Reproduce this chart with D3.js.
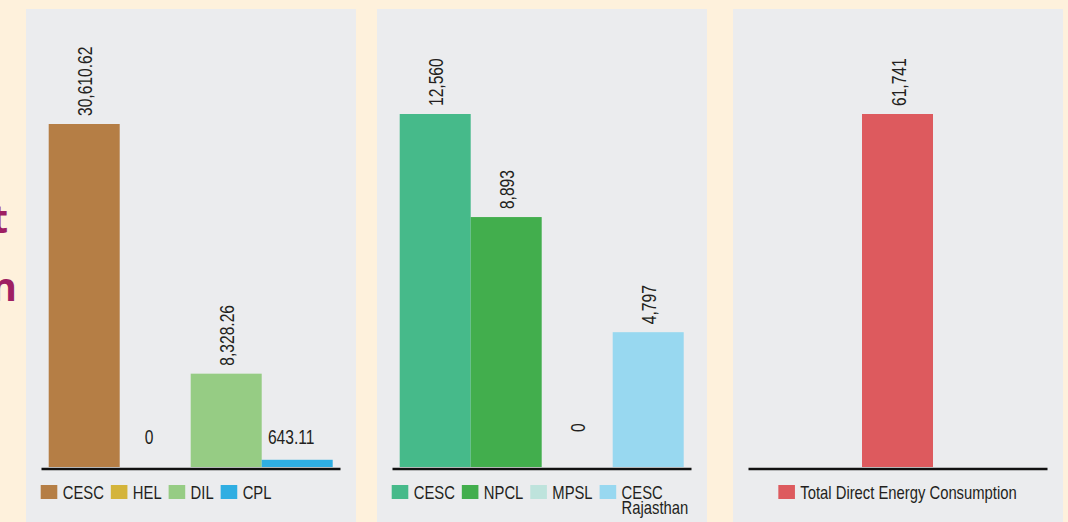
<!DOCTYPE html>
<html>
<head>
<meta charset="utf-8">
<script src="https://cdn.jsdelivr.net/npm/d3@7"></script>
<style>
  html, body { margin: 0; padding: 0; background: #FEF1DC; }
  svg { display: block; }
  .cond { font-family: "Liberation Sans", Arial, sans-serif; }
</style>
</head>
<body>
<svg id="chart" width="1068" height="522"></svg>
<script>
// Direct energy consumption by company group
const groupACategories = ["CESC", "HEL", "DIL", "CPL"];
const groupAValues = [30610.62, 0, 8328.26, 643.11];

const groupBCategories = ["CESC", "NPCL", "MPSL", "CESC Rajasthan"];
const groupBValues = [12560, 8893, 0, 4797];

const totalCategories = ["Total Direct Energy Consumption"];
const totalValues = [61741];

const groupAColors = ["#B57E45", "#D4B43A", "#96CC84", "#2FAEE2"];
const groupBColors = ["#46BA8A", "#42AE4D", "#BEE3DC", "#98D8F0"];
const totalColors = ["#DD5A5E"];

const svg = d3.select("#chart");
const W = 1068, H = 522;

svg.append("rect").attr("width", W).attr("height", H).attr("fill", "#FEF1DC");

// side heading letters peeking in at the left edge
svg.append("text").attr("x", 8).attr("y", 233).attr("text-anchor", "end")
  .attr("font-family", "'Open Sans', sans-serif").attr("font-weight", 700)
  .attr("font-size", 40).attr("fill", "#9E1F63").text("t");
svg.append("text").attr("x", 17).attr("y", 301).attr("text-anchor", "end")
  .attr("font-family", "'Open Sans', sans-serif").attr("font-weight", 700)
  .attr("font-size", 40).attr("fill", "#9E1F63").text("n");

const panelW = 330;
const baseY = 467;
const fmt = d3.format(",");

// condensed type: regular sans squeezed horizontally
const VAL_SIZE = 19.5, VAL_K = 0.8;
const LEG_SIZE = 18.5, LEG_K = 0.8;
const INK = "#231F20";

const panels = [
  { x: 26,  cats: groupACategories, vals: groupAValues, colors: groupAColors,
    top: 124, band: [22.7, 306.7], flatBelow: 1000, legendAlign: "left" },
  { x: 377, cats: groupBCategories, vals: groupBValues, colors: groupBColors,
    top: 114, band: [22.7, 306.7], flatBelow: -1, legendAlign: "left" },
  { x: 733, cats: totalCategories, vals: totalValues, colors: totalColors,
    top: 114, band: [129, 200], flatBelow: -1, legendAlign: "center" }
];

panels.forEach(p => {
  const oy = 9;
  const g = svg.append("g").attr("transform", `translate(${p.x},${oy})`);
  g.append("rect").attr("width", panelW).attr("height", H).attr("fill", "#EBECEE");

  const x = d3.scaleBand().domain(p.cats).range(p.band).padding(0);
  const y = d3.scaleLinear().domain([0, d3.max(p.vals)]).range([baseY - oy, p.top - oy]);

  const data = p.cats.map((c, i) => ({ cat: c, val: p.vals[i], color: p.colors[i] }));

  g.selectAll("rect.bar").data(data).join("rect")
    .attr("class", "bar")
    .attr("x", d => x(d.cat))
    .attr("width", x.bandwidth())
    .attr("y", d => y(d.val))
    .attr("height", d => y(0) - y(d.val))
    .attr("fill", d => d.color);

  // value labels
  data.forEach(d => {
    const cx = x(d.cat) + x.bandwidth() / 2;
    if (d.val < p.flatBelow) {
      const yb = Math.min(y(d.val), y(0) - 13) - 10;
      g.append("text").attr("class", "cond")
        .attr("transform", `translate(${cx - 6},${yb}) scale(${VAL_K},1)`)
        .attr("text-anchor", "middle").attr("font-size", VAL_SIZE).attr("fill", INK)
        .text(fmt(d.val));
    } else {
      const yb = Math.min(y(d.val), y(0) - 27) - 8;
      g.append("text").attr("class", "cond")
        .attr("transform", `translate(${cx + 1},${yb}) rotate(-90) scale(${VAL_K},1)`)
        .attr("dy", "0.36em")
        .attr("text-anchor", "start").attr("font-size", VAL_SIZE).attr("fill", INK)
        .text(fmt(d.val));
    }
  });

  // baseline axis
  const axis = d3.axisBottom(d3.scaleLinear().range([15, 314])).ticks(0).tickSize(0).tickFormat("");
  const ax = g.append("g").attr("transform", `translate(0,${baseY + 1.5 - oy})`).call(axis);
  ax.select(".domain").attr("stroke", "#111").attr("stroke-width", 2.6);

  // legend
  const lg = g.append("g").attr("transform", `translate(0,${485 - oy})`);
  const gap = 7;
  let cur = 14.7;
  data.forEach(d => {
    const it = lg.append("g").attr("transform", `translate(${cur},0)`);
    it.append("rect").attr("width", 16.6).attr("height", 14).attr("fill", d.color);
    const words = d.cat.split(" ");
    const lines = (words.length === 2 && words[1] === "Rajasthan") ? words : [d.cat];
    const t = it.append("text").attr("class", "cond").attr("font-size", LEG_SIZE).attr("fill", INK)
      .attr("transform", `translate(22,14) scale(${LEG_K},1)`);
    lines.forEach((ln, i) => {
      t.append("tspan").attr("x", 0).attr("dy", i === 0 ? 0 : 14.5).text(ln);
    });
    const w = t.node().getBBox().width * LEG_K;
    cur += 22 + w + gap;
  });
  if (p.legendAlign === "center") {
    const total = cur - gap - 14.7;
    const shift = (15 + 314) / 2 - total / 2 - 14.7;
    lg.attr("transform", `translate(${shift},${485 - oy})`);
  }
});
</script>
</body>
</html>
